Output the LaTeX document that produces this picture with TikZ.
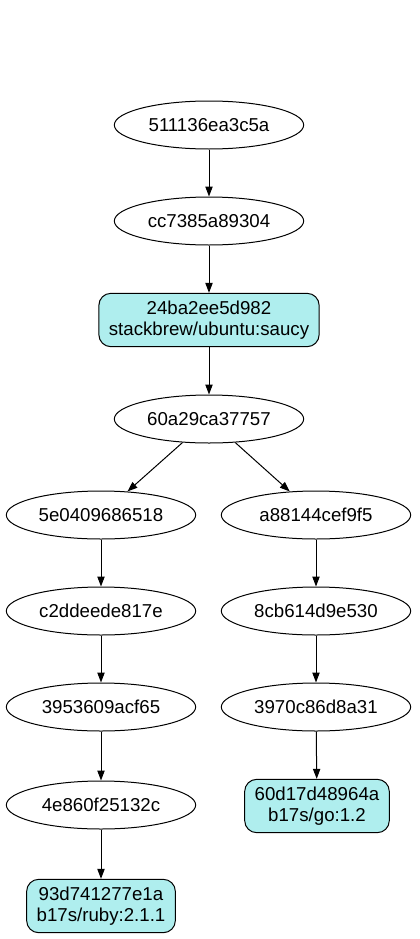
\documentclass[tikz,border=0pt]{standalone}
\usepackage{fontspec}
\setmainfont{Liberation Sans}
\usetikzlibrary{arrows.meta, shapes.geometric}

\begin{document}
\begin{tikzpicture}[
        x = 0.75pt, y = -0.75pt,
        font = \fontsize{14}{15.5}\selectfont,
        line width = 0.75pt,
    layer/.style = {ellipse, draw, inner sep=0pt,
                   minimum width=142pt, minimum height=36pt},
      tag/.style = {rectangle, rounded corners=9pt, draw, fill=tagblue,
                   align=center, inner xsep=7.5pt, minimum height=40pt},
     edge/.style = {-{Triangle[length=7.5pt, width=5.5pt]}}
                        ]
\definecolor{tagblue}{RGB}{175,238,238}
\useasboundingbox (0,0) rectangle (419,939);
\node (l511) [layer] at (209,125) {511136ea3c5a};
\node (lcc7) [layer] at (209,221) {cc7385a89304};
\node (t24b) [tag]   at (209,320) {24ba2ee5d982\\stackbrew/ubuntu:saucy};
\node (l60a) [layer] at (209,419) {60a29ca37757};
\node (l5e0) [layer] at (101,515) {5e0409686518};
\node (la88) [layer] at (316,515) {a88144cef9f5};
\node (lc2d) [layer] at (101,611) {c2ddeede817e};
\node (l8cb) [layer] at (316,611) {8cb614d9e530};
\node (l395) [layer] at (101,707) {3953609acf65};
\node (l397) [layer] at (316,707) {3970c86d8a31};
\node (l4e8) [layer] at (101,805) {4e860f25132c};
\node (t60d) [tag]   at (317,806) {60d17d48964a\\b17s/go:1.2};
\node (t93d) [tag]   at (101,906) {93d741277e1a\\b17s/ruby:2.1.1};
\draw[edge] (l511) to (lcc7);
\draw[edge] (lcc7) to (t24b);
\draw[edge] (t24b) to (l60a);
\draw[edge] (l60a) to (l5e0);
\draw[edge] (l60a) to (la88);
\draw[edge] (l5e0) to (lc2d);
\draw[edge] (lc2d) to (l395);
\draw[edge] (l395) to (l4e8);
\draw[edge] (l4e8) to (t93d);
\draw[edge] (la88) to (l8cb);
\draw[edge] (l8cb) to (l397);
\draw[edge] (l397) to (t60d);
\end{tikzpicture}
\end{document}
